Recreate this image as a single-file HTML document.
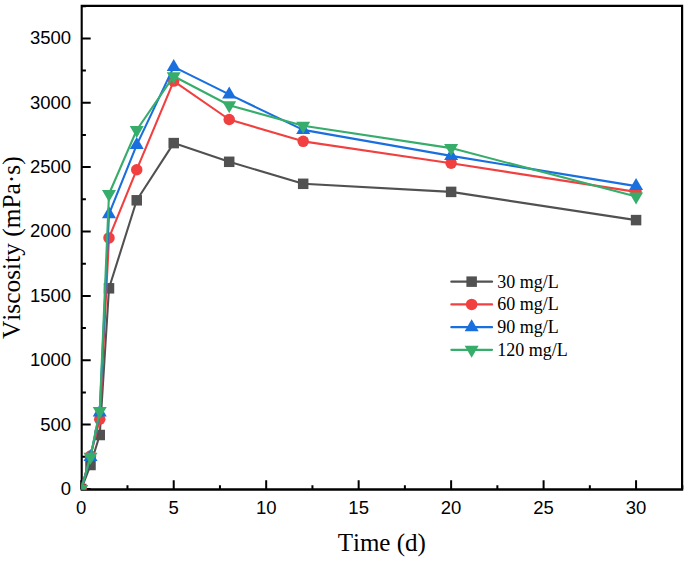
<!DOCTYPE html><html><head><meta charset="utf-8"><style>html,body{margin:0;padding:0;background:#fff;width:685px;height:561px;overflow:hidden}svg{display:block}</style></head><body>
<svg width="685" height="561" viewBox="0 0 685 561">
<rect width="685" height="561" fill="#fff"/>
<defs><clipPath id="c"><rect x="81.4" y="6.0" width="600.7" height="483.6"/></clipPath></defs>
<path d="M80.65 4.8H683.2V7.0H80.65Z M80.65 488.25H683.2V490.85H80.65Z M80.65 4.8H82.75V490.85H80.65Z M681.0 4.8H683.2V490.85H681.0Z" fill="#000"/>
<path d="M81.25 489.50V480.20M127.48 489.50V485.20M173.72 489.50V480.20M219.95 489.50V485.20M266.19 489.50V480.20M312.43 489.50V485.20M358.66 489.50V480.20M404.89 489.50V485.20M451.13 489.50V480.20M497.37 489.50V485.20M543.60 489.50V480.20M589.84 489.50V485.20M636.07 489.50V480.20M682.30 489.50V485.20M81.70 489.00H90.70M81.70 456.81H85.90M81.70 424.62H90.70M81.70 392.44H85.90M81.70 360.25H90.70M81.70 328.06H85.90M81.70 295.88H90.70M81.70 263.69H85.90M81.70 231.50H90.70M81.70 199.31H85.90M81.70 167.12H90.70M81.70 134.94H85.90M81.70 102.75H90.70M81.70 70.56H85.90M81.70 38.38H90.70M81.70 6.19H85.90" stroke="#000" stroke-width="2" fill="none"/>
<g clip-path="url(#c)">
<polyline points="81.25,489.00 90.50,465.00 99.74,435.00 108.99,288.30 136.73,200.30 173.72,143.10 229.20,161.80 303.18,183.80 451.13,191.90 636.07,220.10" fill="none" stroke="#515151" stroke-width="2.1" stroke-linejoin="round"/>
<rect x="76.00" y="483.75" width="10.5" height="10.5" fill="#515151"/>
<rect x="85.25" y="459.75" width="10.5" height="10.5" fill="#515151"/>
<rect x="94.49" y="429.75" width="10.5" height="10.5" fill="#515151"/>
<rect x="103.74" y="283.05" width="10.5" height="10.5" fill="#515151"/>
<rect x="131.48" y="195.05" width="10.5" height="10.5" fill="#515151"/>
<rect x="168.47" y="137.85" width="10.5" height="10.5" fill="#515151"/>
<rect x="223.95" y="156.55" width="10.5" height="10.5" fill="#515151"/>
<rect x="297.93" y="178.55" width="10.5" height="10.5" fill="#515151"/>
<rect x="445.88" y="186.65" width="10.5" height="10.5" fill="#515151"/>
<rect x="630.82" y="214.85" width="10.5" height="10.5" fill="#515151"/>
<polyline points="81.25,489.00 90.50,456.00 99.74,419.20 108.99,237.90 136.73,169.70 173.72,81.10 229.20,119.50 303.18,141.35 451.13,163.30 636.07,191.90" fill="none" stroke="#F14040" stroke-width="2.1" stroke-linejoin="round"/>
<circle cx="81.25" cy="489.00" r="5.75" fill="#F14040"/>
<circle cx="90.50" cy="456.00" r="5.75" fill="#F14040"/>
<circle cx="99.74" cy="419.20" r="5.75" fill="#F14040"/>
<circle cx="108.99" cy="237.90" r="5.75" fill="#F14040"/>
<circle cx="136.73" cy="169.70" r="5.75" fill="#F14040"/>
<circle cx="173.72" cy="81.10" r="5.75" fill="#F14040"/>
<circle cx="229.20" cy="119.50" r="5.75" fill="#F14040"/>
<circle cx="303.18" cy="141.35" r="5.75" fill="#F14040"/>
<circle cx="451.13" cy="163.30" r="5.75" fill="#F14040"/>
<circle cx="636.07" cy="191.90" r="5.75" fill="#F14040"/>
<polyline points="81.25,489.00 90.50,456.90 99.74,412.50 108.99,214.20 136.73,144.90 173.72,66.90 229.20,94.40 303.18,129.90 451.13,155.90 636.07,186.10" fill="none" stroke="#1A6FDF" stroke-width="2.1" stroke-linejoin="round"/>
<path d="M81.25 481.00L88.25 493.00L74.25 493.00Z" fill="#1A6FDF"/>
<path d="M90.50 448.90L97.50 460.90L83.50 460.90Z" fill="#1A6FDF"/>
<path d="M99.74 404.50L106.74 416.50L92.74 416.50Z" fill="#1A6FDF"/>
<path d="M108.99 206.20L115.99 218.20L101.99 218.20Z" fill="#1A6FDF"/>
<path d="M136.73 136.90L143.73 148.90L129.73 148.90Z" fill="#1A6FDF"/>
<path d="M173.72 58.90L180.72 70.90L166.72 70.90Z" fill="#1A6FDF"/>
<path d="M229.20 86.40L236.20 98.40L222.20 98.40Z" fill="#1A6FDF"/>
<path d="M303.18 121.90L310.18 133.90L296.18 133.90Z" fill="#1A6FDF"/>
<path d="M451.13 147.90L458.13 159.90L444.13 159.90Z" fill="#1A6FDF"/>
<path d="M636.07 178.10L643.07 190.10L629.07 190.10Z" fill="#1A6FDF"/>
<polyline points="81.25,489.00 90.50,456.70 99.74,411.00 108.99,194.00 136.73,130.00 173.72,76.20 229.20,105.20 303.18,125.70 451.13,148.10 636.07,196.40" fill="none" stroke="#37AD6B" stroke-width="2.1" stroke-linejoin="round"/>
<path d="M81.25 497.00L88.25 485.00L74.25 485.00Z" fill="#37AD6B"/>
<path d="M90.50 464.70L97.50 452.70L83.50 452.70Z" fill="#37AD6B"/>
<path d="M99.74 419.00L106.74 407.00L92.74 407.00Z" fill="#37AD6B"/>
<path d="M108.99 202.00L115.99 190.00L101.99 190.00Z" fill="#37AD6B"/>
<path d="M136.73 138.00L143.73 126.00L129.73 126.00Z" fill="#37AD6B"/>
<path d="M173.72 84.20L180.72 72.20L166.72 72.20Z" fill="#37AD6B"/>
<path d="M229.20 113.20L236.20 101.20L222.20 101.20Z" fill="#37AD6B"/>
<path d="M303.18 133.70L310.18 121.70L296.18 121.70Z" fill="#37AD6B"/>
<path d="M451.13 156.10L458.13 144.10L444.13 144.10Z" fill="#37AD6B"/>
<path d="M636.07 204.40L643.07 192.40L629.07 192.40Z" fill="#37AD6B"/>
</g>
<g font-family="Liberation Sans, sans-serif" font-size="18.5" fill="#000">
<text x="71.1" y="494.90" text-anchor="end">0</text>
<text x="71.1" y="430.52" text-anchor="end">500</text>
<text x="71.1" y="366.15" text-anchor="end">1000</text>
<text x="71.1" y="301.77" text-anchor="end">1500</text>
<text x="71.1" y="237.40" text-anchor="end">2000</text>
<text x="71.1" y="173.03" text-anchor="end">2500</text>
<text x="71.1" y="108.65" text-anchor="end">3000</text>
<text x="71.1" y="44.27" text-anchor="end">3500</text>
<text x="81.25" y="513.6" text-anchor="middle">0</text>
<text x="173.72" y="513.6" text-anchor="middle">5</text>
<text x="266.19" y="513.6" text-anchor="middle">10</text>
<text x="358.66" y="513.6" text-anchor="middle">15</text>
<text x="451.13" y="513.6" text-anchor="middle">20</text>
<text x="543.60" y="513.6" text-anchor="middle">25</text>
<text x="636.07" y="513.6" text-anchor="middle">30</text>
</g>
<g font-family="Liberation Serif, serif" font-size="25" fill="#000" style="font-kerning:none">
<text x="381.8" y="551.1" text-anchor="middle">Time (d)</text>
<text transform="translate(19.9 247.7) rotate(-90)" text-anchor="middle" font-size="25.4">Viscosity (mPa·s)</text>
</g>
<line x1="451.4" y1="281.65" x2="492" y2="281.65" stroke="#515151" stroke-width="2.3" stroke-linecap="round"/>
<rect x="466.40" y="276.40" width="10.5" height="10.5" fill="#515151"/>
<text x="497.2" y="287.55" font-family="Liberation Serif, serif" font-size="18">30 mg/L</text>
<line x1="451.4" y1="304.4" x2="492" y2="304.4" stroke="#F14040" stroke-width="2.3" stroke-linecap="round"/>
<circle cx="471.65" cy="304.40" r="5.75" fill="#F14040"/>
<text x="497.2" y="310.30" font-family="Liberation Serif, serif" font-size="18">60 mg/L</text>
<line x1="451.4" y1="327.2" x2="492" y2="327.2" stroke="#1A6FDF" stroke-width="2.3" stroke-linecap="round"/>
<path d="M471.65 319.20L478.65 331.20L464.65 331.20Z" fill="#1A6FDF"/>
<text x="497.2" y="333.10" font-family="Liberation Serif, serif" font-size="18">90 mg/L</text>
<line x1="451.4" y1="349.8" x2="492" y2="349.8" stroke="#37AD6B" stroke-width="2.3" stroke-linecap="round"/>
<path d="M471.65 357.80L478.65 345.80L464.65 345.80Z" fill="#37AD6B"/>
<text x="497.2" y="355.70" font-family="Liberation Serif, serif" font-size="18">120 mg/L</text>
</svg></body></html>
